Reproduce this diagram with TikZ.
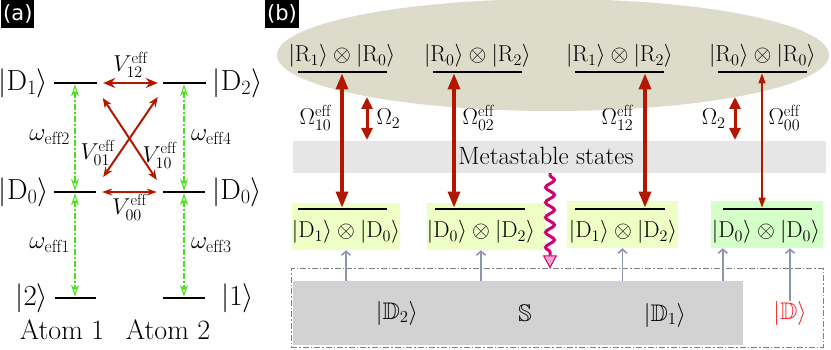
\documentclass[tikz,border=0pt]{standalone}
\usepackage{fix-cm}
\usepackage{amsmath,amssymb}
\usepackage{fontspec}
\newfontfamily\tagfont{DejaVu Sans}
\usepackage{tikz}
\usetikzlibrary{arrows.meta,calc,positioning,decorations.pathmorphing}
\definecolor{coupling}{RGB}{178,24,0}
\definecolor{drive}{RGB}{70,225,20}
\definecolor{rydberg}{RGB}{221,220,203}
\definecolor{metafill}{RGB}{230,230,230}
\definecolor{pairfill}{RGB}{238,255,198}
\definecolor{darkfill}{RGB}{212,255,200}
\definecolor{subfill}{RGB}{210,210,210}
\definecolor{pump}{RGB}{140,150,175}
\definecolor{decaycol}{RGB}{210,0,110}
\definecolor{darkcol}{RGB}{240,30,30}
\newcommand{\fsz}[1]{\fontsize{#1}{#1}\selectfont}
\tikzset{
  statebar/.style={fill=black, inner sep=0pt, minimum height=2.4pt, minimum width=#1},
  keta/.style={font=\fsz{29}, inner sep=0pt},
  ketb/.style={font=\fsz{23}, inner sep=0pt},
  lbl/.style={font=\fsz{23}, inner sep=0pt},
  coup/.style={<->, >={Stealth[length=12pt,width=10pt]}, draw=coupling, line width=2.6pt},
  osc/.style={<->, >={Stealth[open,length=12pt,width=8pt,line width=1pt]}, draw=drive, line width=2pt, dash pattern=on 6pt off 2pt on 2pt off 2pt},
  rabi/.style={<->, >={Triangle[length=16pt,width=12pt]}, draw=coupling, line width=3.4pt},
  shift2/.style={<->, >={Triangle[length=12pt,width=11pt]}, draw=coupling, line width=3pt},
  feed/.style={->, >={Straight Barb[length=4pt,width=9pt]}, draw=pump, line width=1.6pt},
  decayline/.style={decorate, decoration={snake, amplitude=4.5pt, segment length=15pt, pre length=2pt, post length=13pt}, draw=decaycol, line width=3pt, -{Triangle[length=13pt,width=14pt,fill=decaycol!35,line width=1pt]}},
  pairbox/.style={fill=#1, minimum height=47pt, inner sep=0pt},
  tag/.style={fill=black, text=white, font=\tagfont\fsz{21}, inner xsep=2pt, minimum height=28pt, anchor=north west}
}
\begin{document}
\begin{tikzpicture}[x=1pt, y=-1pt]
  \useasboundingbox (0,0) rectangle (831,350);
  \node[tag] (taga) at (1,0) {(a)};
  \node[statebar=43pt] (d1a) at (75,83) {};
  \node[statebar=43pt] (d2b) at (184,83) {};
  \node[statebar=42pt] (d0a) at (75,192) {};
  \node[statebar=42pt] (d0b) at (184,192) {};
  \node[statebar=41pt] (s2) at (75,298) {};
  \node[statebar=42pt] (s1) at (184,298) {};
  \node[keta, left=5pt of d1a] (kd1a) {$|\mathrm{D}_1\rangle$};
  \node[keta, right=7pt of d2b] (kd2b) {$|\mathrm{D}_2\rangle$};
  \node[keta, left=5pt of d0a] (kd0a) {$|\mathrm{D}_0\rangle$};
  \node[keta, right=7pt of d0b] (kd0b) {$|\mathrm{D}_0\rangle$};
  \node[keta, left=6pt of s2] (ks2) {$|2\rangle$};
  \node[keta, right=16pt of s1] (ks1) {$|1\rangle$};
  \node[font=\fsz{28}, below=17pt of s2, xshift=-13pt] (atom1) {Atom 1};
  \node[font=\fsz{28}, below=17pt of s1, xshift=-16pt] (atom2) {Atom 2};
  \draw[coup] ([xshift=6.5pt]d1a.east) -- ([xshift=-4.5pt]d2b.west) node[lbl, midway, above=4pt] {$V_{12}^{\mathrm{eff}}$};
  \draw[coup, line width=2pt, >={Stealth[length=10pt,width=8pt]}] ($(d1a.east)+(6,15)$) -- ($(d0b.west)+(-6,-12)$) node[lbl, pos=0.7, right=1pt] {$V_{10}^{\mathrm{eff}}$};
  \draw[coup, line width=2pt, >={Stealth[length=10pt,width=8pt]}] ($(d0a.east)+(7,-15)$) -- ($(d2b.west)+(-4.5,14)$) node[lbl, pos=0.3, left=4pt] {$V_{01}^{\mathrm{eff}}$};
  \draw[coup, line width=1.3pt, >={Stealth[length=10pt,width=7pt]}] ([xshift=6pt]d0a.east) -- ([xshift=-6pt]d0b.west) node[lbl, midway, below=2pt] {$V_{00}^{\mathrm{eff}}$};
  \draw[osc] (d1a) -- (d0a) node[lbl, font=\fsz{25}, midway, left=4pt] {$\omega_{\mathrm{eff}2}$};
  \draw[osc] (d0a) -- (s2) node[lbl, font=\fsz{25}, midway, left=4pt] {$\omega_{\mathrm{eff}1}$};
  \draw[osc] (d2b) -- (d0b) node[lbl, font=\fsz{25}, midway, right=6pt] {$\omega_{\mathrm{eff}4}$};
  \draw[osc] (d0b) -- (s1) node[lbl, font=\fsz{25}, midway, right=6pt] {$\omega_{\mathrm{eff}3}$};

  \fill[rydberg] (553,55) ellipse [x radius=276, y radius=56];
  \node[tag] (tagb) at (265,0) {(b)};
  \node[fill=metafill, minimum width=533pt, minimum height=32pt, inner sep=0pt] (band) at (559.5,157) {};
  \node[font=\fsz{25}, inner sep=0pt] (bandtxt) at (546,156) {Metastable states};
  \node[statebar=89pt] (u1) at (342,72) {};
  \node[statebar=89pt] (u2) at (477.5,72) {};
  \node[statebar=89pt] (u3) at (619.5,72) {};
  \node[statebar=89pt] (u4) at (762.5,72) {};
  \node[ketb, above=3pt of u1] (r1) {$|\mathrm{R}_1\rangle\otimes|\mathrm{R}_0\rangle$};
  \node[ketb, above=3pt of u2] (r2) {$|\mathrm{R}_0\rangle\otimes|\mathrm{R}_2\rangle$};
  \node[ketb, above=3pt of u3] (r3) {$|\mathrm{R}_1\rangle\otimes|\mathrm{R}_2\rangle$};
  \node[ketb, above=3pt of u4] (r4) {$|\mathrm{R}_0\rangle\otimes|\mathrm{R}_0\rangle$};
  \node[pairbox=pairfill, minimum width=108pt] (b1) at (346,226.5) {};
  \node[pairbox=pairfill, minimum width=118pt] (b2) at (486,226.5) {};
  \node[pairbox=pairfill, minimum width=111pt] (b3) at (622.5,224.5) {};
  \node[pairbox=darkfill, minimum width=112pt] (b4) at (767,224.5) {};
  \node[statebar=89pt] (l1) at (342,209) {};
  \node[statebar=90pt] (l2) at (480,209) {};
  \node[statebar=90pt] (l3) at (620,209) {};
  \node[statebar=89pt] (l4) at (767.5,209) {};
  \node[ketb] (p1) at (346,232) {$|\mathrm{D}_1\rangle\otimes|\mathrm{D}_0\rangle$};
  \node[ketb] (p2) at (481,232) {$|\mathrm{D}_0\rangle\otimes|\mathrm{D}_2\rangle$};
  \node[ketb] (p3) at (623,232) {$|\mathrm{D}_1\rangle\otimes|\mathrm{D}_2\rangle$};
  \node[ketb] (p4) at (766,232) {$|\mathrm{D}_0\rangle\otimes|\mathrm{D}_0\rangle$};
  \draw[rabi] (u1.south) -- (l1.north) node[lbl, pos=0.33, left=9pt] {$\Omega_{10}^{\mathrm{eff}}$};
  \draw[rabi] ([xshift=-23.5pt]u2.south) -- ([xshift=-26pt]l2.north) node[lbl, pos=0.33, right=7pt] {$\Omega_{02}^{\mathrm{eff}}$};
  \draw[rabi] ([xshift=25.5pt]u3.south) -- ([xshift=25pt]l3.north) node[lbl, pos=0.33, left=10pt] {$\Omega_{12}^{\mathrm{eff}}$};
  \draw[rabi, line width=1.2pt, >={Triangle[length=10pt,width=7pt]}] ([xshift=-0.5pt]u4.south) -- ([xshift=-5.5pt]l4.north) node[lbl, pos=0.33, right=6pt] {$\Omega_{00}^{\mathrm{eff}}$};
  \coordinate (w1t) at (367,97);
  \coordinate (w1b) at (367,140);
  \coordinate (w2t) at (735,97);
  \coordinate (w2b) at (735,140);
  \draw[shift2] (w1t) -- (w1b) node[lbl, midway, right=8pt] {$\Omega_2$};
  \draw[shift2] (w2t) -- (w2b) node[lbl, midway, left=8pt] {$\Omega_2$};

  \node[fill=subfill, minimum width=450pt, minimum height=64pt, inner sep=0pt] (sub) at (518,313) {};
  \node[draw=gray, line width=1pt, dash pattern=on 6pt off 2pt on 1.5pt off 2pt, minimum width=532pt, minimum height=78pt, inner sep=0pt] (basin) at (557,308) {};
  \node[ketb, font=\fsz{24}] (kdd2) at (397,313) {$|\mathbb{D}_2\rangle$};
  \node[ketb, font=\fsz{24}] (kss) at (525,313) {$\mathbb{S}$};
  \node[ketb, font=\fsz{24}] (kdd1) at (665,315) {$|\mathbb{D}_1\rangle$};
  \node[ketb, font=\fsz{24}, text=darkcol] (kdd) at (790,313) {$|\mathbb{D}\rangle$};
  \draw[feed] (sub.north -| b1.south) -- (b1.south);
  \draw[feed] (sub.north -| p2) -- (p2 |- b2.south);
  \draw[feed] (sub.north -| b3.south) -- (b3.south);
  \draw[feed] (sub.north -| l4.west) -- (l4.west |- b4.south);
  \draw[feed] (kdd.north) -- (kdd.north |- b4.south);
  \draw[decayline] ($(band.south)+(-9.5,0)$) -- ($(basin.north)+(-7,0)$);
\end{tikzpicture}
\end{document}
